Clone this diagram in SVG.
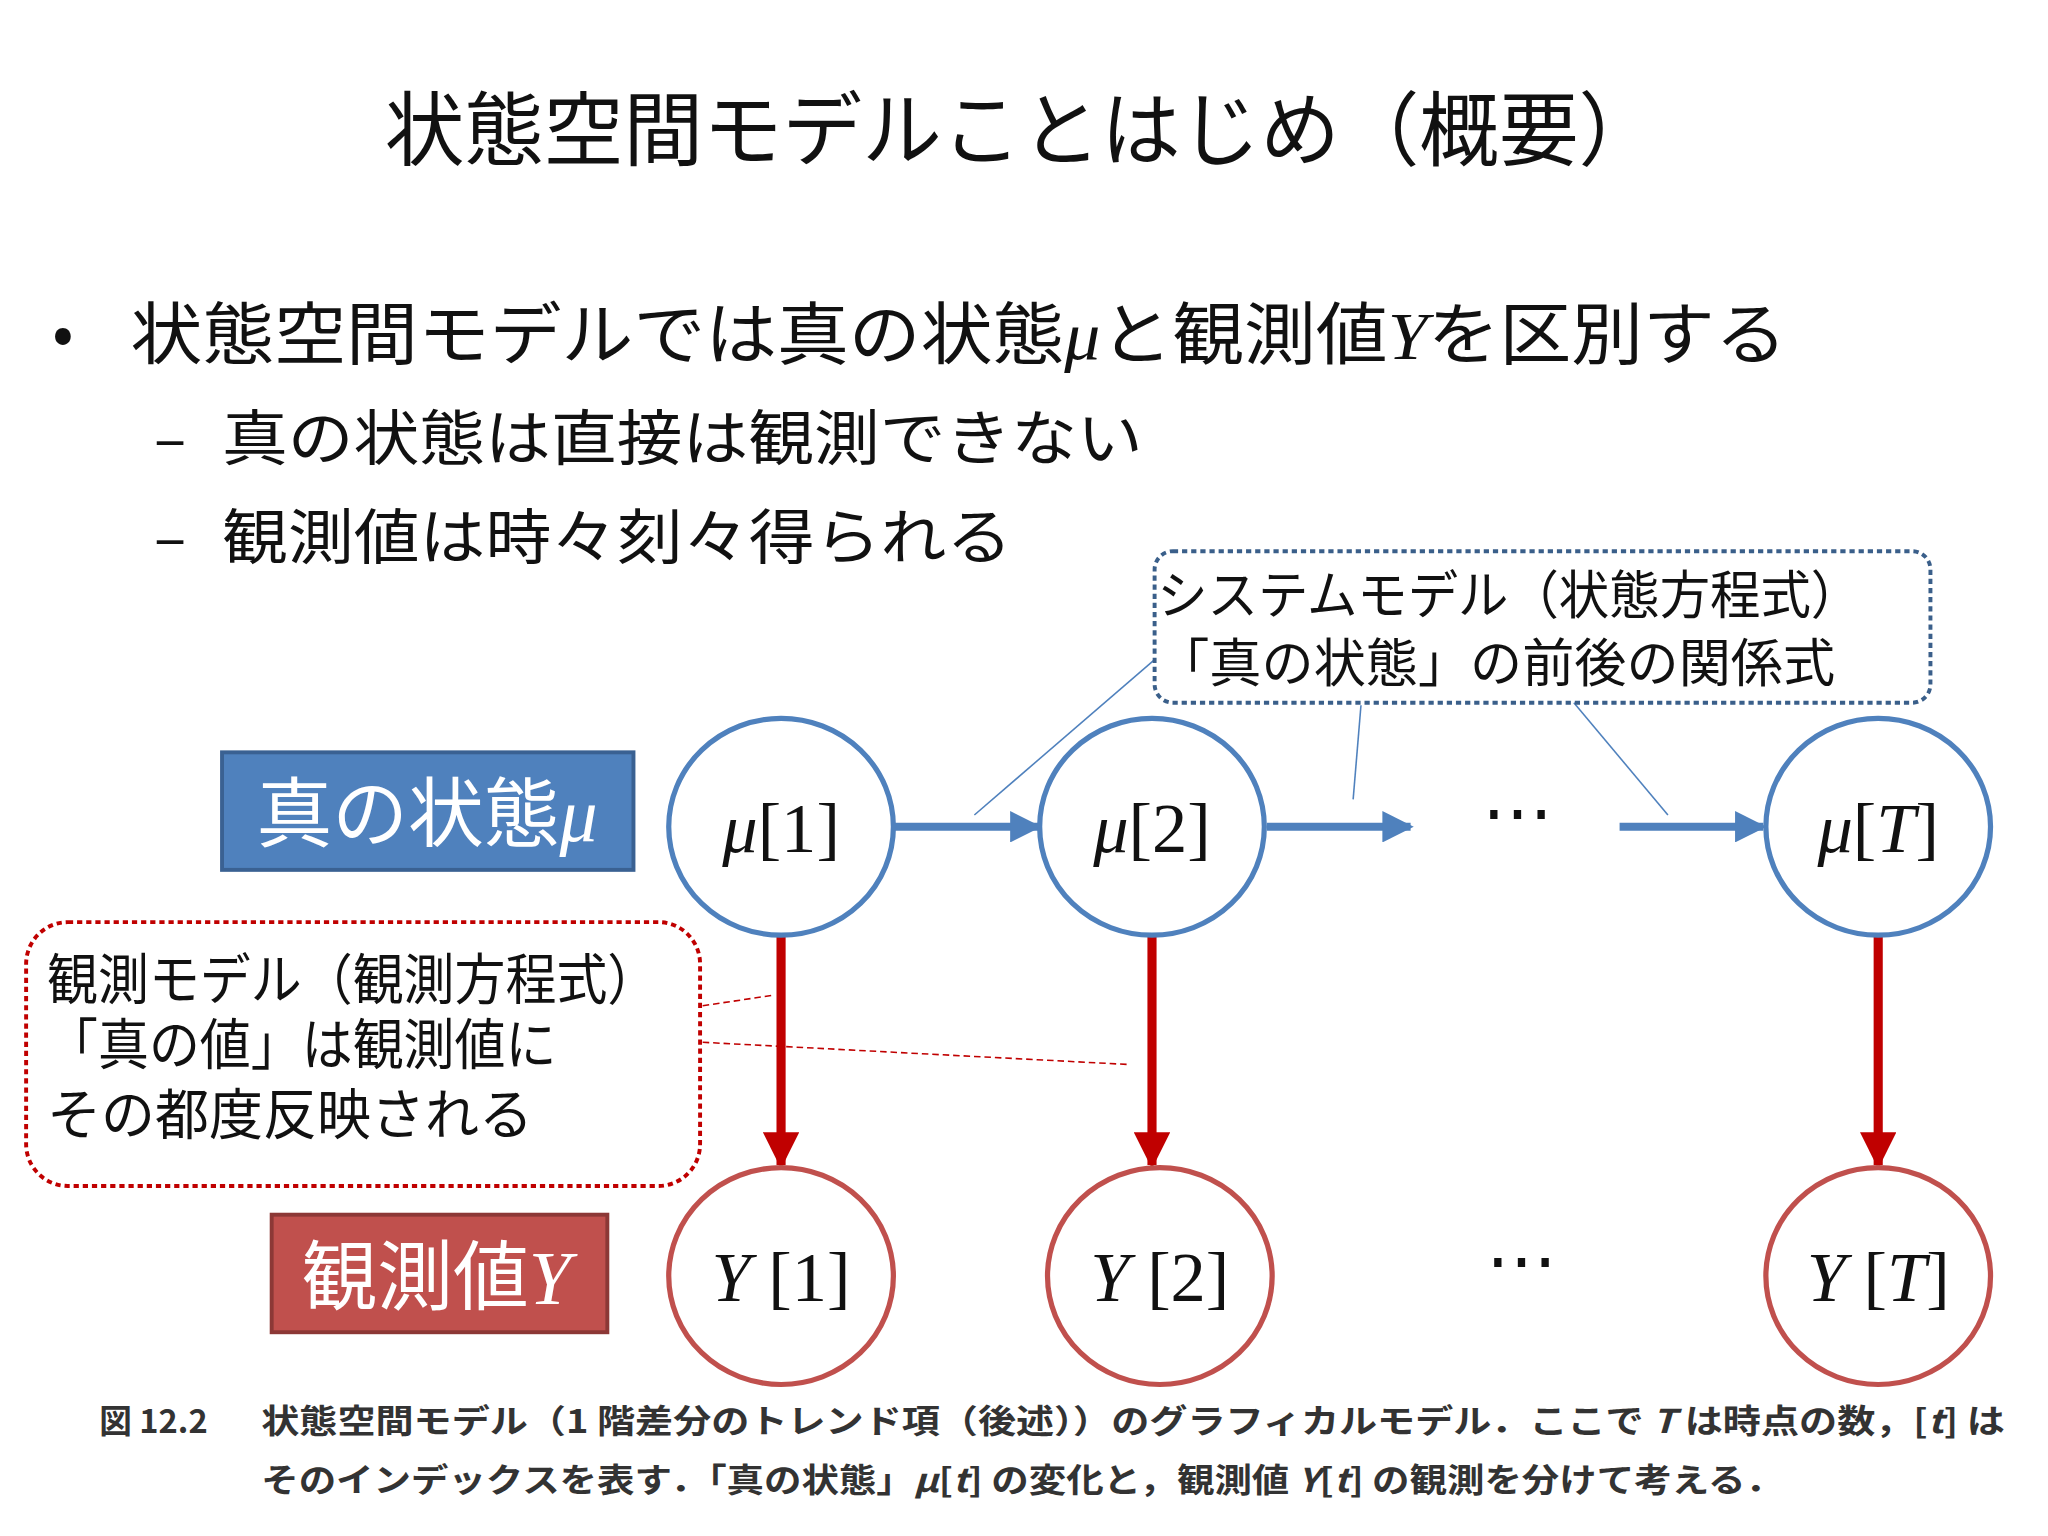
<svg xmlns="http://www.w3.org/2000/svg" width="2048" height="1536" viewBox="0 0 2048 1536">
<defs>
<style>
.j{font-family:"Noto Sans CJK JP","Noto Sans",sans-serif;fill:#111}
.m{font-family:"Liberation Serif","DejaVu Serif",serif;fill:#111;font-size:54px;text-anchor:middle}
.bc{fill:#fff;stroke:#4f81bd;stroke-width:4}
.rc{fill:#fff;stroke:#c0504d;stroke-width:4}
.ba{stroke:#4f81bd;stroke-width:6;fill:none}
.ra{stroke:#c00000;stroke-width:7;fill:none}
</style>
<marker id="bh" viewBox="0 0 10 10" refX="9" refY="5" markerWidth="4" markerHeight="4" orient="auto" markerUnits="strokeWidth"><path d="M0,0L10,5L0,10z" fill="#4f81bd"/></marker>
<marker id="rh" viewBox="0 0 10 10" refX="9" refY="5" markerWidth="4" markerHeight="4" orient="auto" markerUnits="strokeWidth"><path d="M0,0L10,5L0,10z" fill="#c00000"/></marker>
</defs>
<rect width="2048" height="1536" fill="#fff"/>
<g transform="scale(1.30612)">
<g id="texts">
<text class="j" x="782" y="122" font-size="62" text-anchor="middle" textLength="975" lengthAdjust="spacingAndGlyphs">状態空間モデルことはじめ（概要）</text>
<text class="j" x="40" y="272" font-size="48">•</text>
<text class="j" x="100" y="275" font-size="52" textLength="1268" lengthAdjust="spacingAndGlyphs">状態空間モデルでは真の状態<tspan font-family="Liberation Serif,serif" font-style="italic">μ</tspan>と観測値<tspan font-family="Liberation Serif,serif" font-style="italic">Y</tspan>を区別する</text>
<text class="j" x="118" y="352" font-size="46">–</text>
<text class="j" x="170" y="352" font-size="46" textLength="705" lengthAdjust="spacingAndGlyphs">真の状態は直接は観測できない</text>
<text class="j" x="118" y="428" font-size="46">–</text>
<text class="j" x="170" y="428" font-size="46" textLength="605" lengthAdjust="spacingAndGlyphs">観測値は時々刻々得られる</text>
</g>
<g id="connectors">
<line class="ba" x1="684" y1="633" x2="795" y2="633" marker-end="url(#bh)"/>
<line class="ba" x1="970" y1="633" x2="1080" y2="633" marker-end="url(#bh)"/>
<line class="ba" x1="1240" y1="633" x2="1350" y2="633" marker-end="url(#bh)"/>
<line class="ra" x1="598" y1="716" x2="598" y2="892" marker-end="url(#rh)"/>
<line class="ra" x1="882" y1="716" x2="882" y2="892" marker-end="url(#rh)"/>
<line class="ra" x1="1438" y1="716" x2="1438" y2="892" marker-end="url(#rh)"/>
<g stroke="#4f81bd" stroke-width="1.2">
<line x1="884" y1="505" x2="746" y2="624"/>
<line x1="1042" y1="540" x2="1036" y2="612"/>
<line x1="1205" y1="538" x2="1277" y2="624"/>
</g>
<g stroke="#c00000" stroke-width="1.2" stroke-dasharray="5,3">
<line x1="538" y1="770" x2="592" y2="762"/>
<line x1="538" y1="798" x2="864" y2="815"/>
</g>
</g>
<g id="sysbox">
<rect x="884" y="422" width="594" height="116" rx="14" fill="none" stroke="#3a5f8a" stroke-width="3" stroke-dasharray="4,3"/>
<text class="j" x="886" y="470" font-size="40" textLength="539" lengthAdjust="spacingAndGlyphs">システムモデル（状態方程式）</text>
<text class="j" x="886" y="522" font-size="40" textLength="519" lengthAdjust="spacingAndGlyphs">「真の状態」の前後の関係式</text>
</g>
<g id="obsbox">
<rect x="20" y="706" width="516" height="202" rx="32" fill="none" stroke="#c00000" stroke-width="3" stroke-dasharray="4,3"/>
<text class="j" x="36" y="765" font-size="42" textLength="468" lengthAdjust="spacingAndGlyphs">観測モデル（観測方程式）</text>
<text class="j" x="36" y="815" font-size="42" textLength="390" lengthAdjust="spacingAndGlyphs">「真の値」は観測値に</text>
<text class="j" x="36" y="868" font-size="42" textLength="372" lengthAdjust="spacingAndGlyphs">その都度反映される</text>
</g>
<g id="truelabel">
<rect x="170" y="576" width="315" height="90" fill="#4f81bd" stroke="#3a6192" stroke-width="3"/>
<text class="j" x="327" y="644" font-size="58" text-anchor="middle" style="fill:#fff">真の状態<tspan font-family="Liberation Serif,serif" font-style="italic">μ</tspan></text>
</g>
<g id="obslabel">
<rect x="208" y="930" width="257" height="90" fill="#c0504d" stroke="#8c3836" stroke-width="3"/>
<text class="j" x="334" y="998" font-size="58" text-anchor="middle" style="fill:#fff">観測値<tspan font-family="Liberation Serif,serif" font-style="italic">Y</tspan></text>
</g>
<g id="mu1"><ellipse class="bc" cx="598" cy="633" rx="86" ry="83"/><text class="m" x="598" y="652"><tspan font-style="italic">μ</tspan>[1]</text></g>
<g id="mu2"><ellipse class="bc" cx="882" cy="633" rx="86" ry="83"/><text class="m" x="882" y="652"><tspan font-style="italic">μ</tspan>[2]</text></g>
<g id="muT"><ellipse class="bc" cx="1438" cy="633" rx="86" ry="83"/><text class="m" x="1438" y="652"><tspan font-style="italic">μ</tspan>[<tspan font-style="italic">T</tspan>]</text></g>
<g id="y1"><ellipse class="rc" cx="598" cy="977" rx="86" ry="83"/><text class="m" x="598" y="996"><tspan font-style="italic">Y</tspan> [1]</text></g>
<g id="y2"><ellipse class="rc" cx="888" cy="977" rx="86" ry="83"/><text class="m" x="888" y="996"><tspan font-style="italic">Y</tspan> [2]</text></g>
<g id="yT"><ellipse class="rc" cx="1438" cy="977" rx="86" ry="83"/><text class="m" x="1438" y="996"><tspan font-style="italic">Y</tspan> [<tspan font-style="italic">T</tspan>]</text></g>
<text class="m" x="1162" y="640" font-size="40">⋯</text>
<text class="m" x="1165" y="983" font-size="40">⋯</text>
<g id="caption">
<text class="j" x="76" y="1097" font-size="25" style="fill:#333" font-weight="bold">図 12.2</text>
<text class="j" x="200" y="1097" font-size="25" textLength="1335" lengthAdjust="spacingAndGlyphs" style="fill:#333" font-weight="bold">状態空間モデル（1 階差分のトレンド項（後述））のグラフィカルモデル．ここで <tspan font-style="italic">T</tspan> は時点の数，[<tspan font-style="italic">t</tspan>] は</text>
<text class="j" x="200" y="1142" font-size="25" textLength="1165" lengthAdjust="spacingAndGlyphs" style="fill:#333" font-weight="bold">そのインデックスを表す．「真の状態」<tspan font-style="italic">μ</tspan>[<tspan font-style="italic">t</tspan>] の変化と，観測値 <tspan font-style="italic">Y</tspan>[<tspan font-style="italic">t</tspan>] の観測を分けて考える．</text>
</g>
</g>
</svg>
